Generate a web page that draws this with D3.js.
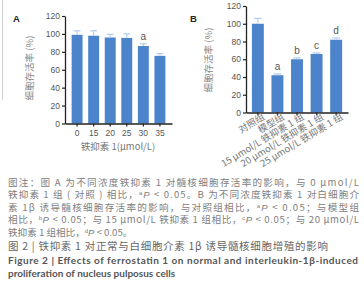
<!DOCTYPE html>
<html>
<head>
<meta charset="utf-8">
<script src="https://cdn.jsdelivr.net/npm/d3@7"></script>
<style>
  body { margin: 0; background: #fff; }
  svg { display: block; }
</style>
</head>
<body>
<div id="chart"></div>
<script>
// === Data ===
const concA = ["0", "15", "20", "25", "30", "35"];
const viabilityA = [99, 98, 96, 95.5, 86.5, 75.5];
const errA = [4.5, 5.5, 3.5, 4.5, 2.5, 2.5];
const sigA = ["", "", "", "", "a", ""];

const groupsB = ["对照组", "模型组", "15 μmol/L 铁抑素 1 组", "20 μmol/L 铁抑素 1 组", "25 μmol/L 铁抑素 1 组"];
const viabilityB = [100, 42, 60, 66, 82];
const errB = [6, 1.5, 1.5, 1.2, 2];
const sigB = ["", "a", "b", "c", "d"];

const yTicks = [0, 20, 40, 60, 80, 100, 120];

// caption lines: [text, kind]
const noteLines = [
  [["图注：图 A 为不同浓度铁抑素 1 对髓核细胞存活率的影响，与 0 μmol/L"]],
  [["铁抑素 1 组 ( 对照 ) 相比，"], ["a", "sup"], ["P", "i"], [" < 0.05。B 为不同浓度铁抑素 1 对白细胞介"]],
  [["素 1β 诱导髓核细胞存活率的影响，与对照组相比，"], ["a", "sup"], ["P", "i"], [" < 0.05；与模型组"]],
  [["相比，"], ["b", "sup"], ["P", "i"], [" < 0.05；与 15 μmol/L 铁抑素 1 组相比，"], ["c", "sup"], ["P", "i"], [" < 0.05；与 20 μmol/L"]],
  [["铁抑素 1 组相比，"], ["d", "sup"], ["P", "i"], [" < 0.05。"]]
];
const titleCn = "图 2  |  铁抑素 1 对正常与白细胞介素 1β 诱导髓核细胞增殖的影响";
const titleEn = ["Figure 2  |  Effects of ferrostatin 1 on normal and interleukin-1β-induced",
                 "proliferation of nucleus pulposus cells"];

const width = 364, height = 300;
const barColor = "#4c84cc";
const errColor = "#b3cdef";
const cnFont = "'Noto Sans CJK SC', 'Noto Sans', sans-serif";
const latFont = "'Liberation Sans', Arial, sans-serif";

const svg = d3.select("#chart").append("svg")
  .attr("width", width).attr("height", height)
  .style("font-family", cnFont);

// faint frame line at left edge
svg.append("line")
  .attr("x1", 2.5).attr("x2", 2.5).attr("y1", 0).attr("y2", 100)
  .attr("stroke", "#cfcfcf").attr("stroke-width", 1);

function drawPanel(opt) {
  const g = svg.append("g");
  const x = d3.scaleBand(opt.cats, opt.xRange).paddingInner(opt.pi).paddingOuter(opt.po);
  const y = d3.scaleLinear([0, 120], opt.yRange);

  // bars
  g.selectAll("rect.bar").data(opt.vals).join("rect")
    .attr("class", "bar")
    .attr("x", (d, i) => x(opt.cats[i]))
    .attr("width", x.bandwidth())
    .attr("y", d => y(d))
    .attr("height", d => y(0) - y(d))
    .attr("fill", barColor);

  // error bars (upper half only)
  const cap = x.bandwidth() * 0.32;
  opt.vals.forEach((v, i) => {
    const cx = x(opt.cats[i]) + x.bandwidth() / 2;
    const top = y(v + opt.err[i]);
    g.append("line").attr("x1", cx).attr("x2", cx)
      .attr("y1", y(v)).attr("y2", top)
      .attr("stroke", errColor).attr("stroke-width", 1.2);
    g.append("line").attr("x1", cx - cap).attr("x2", cx + cap)
      .attr("y1", top).attr("y2", top)
      .attr("stroke", errColor).attr("stroke-width", 1.2);
    if (opt.sig[i]) {
      g.append("text").attr("x", cx).attr("y", top - 3.5)
        .attr("text-anchor", "middle").attr("font-size", 10)
        .attr("font-family", latFont)
        .attr("fill", "#555").text(opt.sig[i]);
    }
  });

  // axes
  const yAxis = g.append("g")
    .attr("transform", `translate(${opt.xRange[0]},0)`)
    .call(d3.axisLeft(y).tickValues(yTicks).tickSize(3).tickSizeOuter(0).tickPadding(2));
  const xAxis = g.append("g")
    .attr("transform", `translate(0,${opt.yRange[0]})`)
    .call(d3.axisBottom(x).tickSize(3).tickSizeOuter(0).tickPadding(3));
  [yAxis, xAxis].forEach(a => {
    a.select(".domain").attr("stroke", "#222").attr("stroke-width", 1.3);
    a.selectAll(".tick line").attr("stroke", "#222").attr("stroke-width", 1.2);
    a.selectAll(".tick text").attr("fill", "#555").attr("font-size", 8.5)
      .attr("font-family", latFont);
  });

  // y title
  g.append("text")
    .attr("transform", `translate(${opt.yTitlePos[0]},${opt.yTitlePos[1]}) rotate(-90)`)
    .attr("text-anchor", "middle").attr("font-size", 9.5).attr("fill", "#888")
    .text("细胞存活率 (%)");

  // panel letter
  g.append("text").attr("x", opt.letterPos[0]).attr("y", opt.letterPos[1])
    .attr("font-family", latFont)
    .attr("font-weight", "bold").attr("font-size", 9.5).attr("fill", "#222")
    .text(opt.letter);

  return { g, x, y, xAxis };
}

// === Panel A ===
const pA = drawPanel({
  cats: concA, vals: viabilityA, err: errA, sig: sigA,
  xRange: [65, 172], yRange: [123.5, 16], pi: 0.34, po: 0.4,
  yTitlePos: [33, 68], letterPos: [13, 22], letter: "A"
});
pA.g.append("text").attr("x", 118).attr("y", 150)
  .attr("text-anchor", "middle").attr("font-size", 9.5).attr("fill", "#777")
  .text("铁抑素 1(μmol/L)");

// === Panel B ===
const pB = drawPanel({
  cats: groupsB, vals: viabilityB, err: errB, sig: sigB,
  xRange: [246, 348], yRange: [112.5, 6], pi: 0.39, po: 0.3,
  yTitlePos: [212, 60], letterPos: [190, 22], letter: "B"
});
pB.xAxis.selectAll(".tick text")
  .attr("font-family", cnFont).attr("font-size", 9.5).attr("fill", "#777")
  .attr("text-anchor", "end")
  .attr("y", 4).attr("dx", "0.35em").attr("dy", "0.55em")
  .attr("transform", "rotate(-31)");

// === Caption ===
const cap = svg.append("g");
const capX = 8;
function richLine(y, segs, size, color, fullWidth) {
  const t = cap.append("text").attr("x", capX).attr("y", y)
    .attr("font-size", size).attr("fill", color);
  segs.forEach(([s, k]) => {
    const ts = t.append("tspan").text(s);
    if (k === "sup") ts.attr("font-size", size * 0.62).attr("baseline-shift", "super")
      .attr("font-family", latFont);
    if (k === "i") ts.attr("font-style", "italic").attr("font-family", latFont);
  });
  if (fullWidth) t.attr("textLength", fullWidth).attr("lengthAdjust", "spacing");
  return t;
}
const noteY = [185.5, 198, 210.5, 223, 235.5];
noteLines.forEach((segs, i) => {
  richLine(noteY[i], segs, 9.6, "#808080", i < 4 ? 351 : null);
});
cap.append("text").attr("x", capX).attr("y", 249.5)
  .attr("font-size", 10.5).attr("fill", "#666")
  .attr("textLength", 320).attr("lengthAdjust", "spacing")
  .text(titleCn);
cap.append("text").attr("x", capX).attr("y", 263.5)
  .attr("font-family", "Lato, 'Liberation Sans', sans-serif").attr("font-weight", "bold")
  .attr("font-size", 10).attr("fill", "#555")
  .attr("textLength", 350).attr("lengthAdjust", "spacing")
  .text(titleEn[0]);
cap.append("text").attr("x", capX).attr("y", 276.5)
  .attr("font-family", "Lato, 'Liberation Sans', sans-serif").attr("font-weight", "bold")
  .attr("font-size", 10).attr("fill", "#555")
  .text(titleEn[1]);
</script>
</body>
</html>
